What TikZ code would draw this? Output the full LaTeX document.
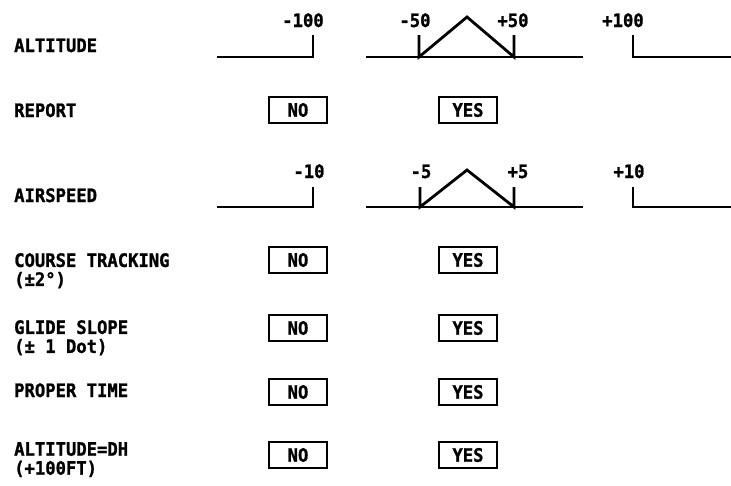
\documentclass[tikz,border=0pt]{standalone}
\usepackage{fontspec}
\usepackage{tikz}
\usetikzlibrary{positioning}
\newfontfamily\tagfont[FakeStretch=0.93, BoldFeatures={FakeBold=1.2}]{DejaVu Sans Mono}

\begin{document}
\begin{tikzpicture}[
    x=1pt, y=-1pt,
    font=\tagfont\bfseries\fontsize{18.5}{19}\selectfont,
    lbl/.style={anchor=base west, inner sep=0pt},
    lbltwo/.style={anchor=north west, inner sep=0pt, align=left},
    num/.style={anchor=base, inner sep=0pt},
    ansbox/.style={draw, line width=2.6pt, minimum width=58pt, minimum height=26pt, inner sep=0pt},
    scaleline/.style={line width=2.8pt, line join=miter}
]
\useasboundingbox (0,0) rectangle (731,485);

% row labels
\node[lbl] (alt) at (14,52) {ALTITUDE};
\node[lbl] (report) at (14,117) {REPORT};
\node[lbl] (speed) at (14,202) {AIRSPEED};
\node[lbltwo] (course) at (14,253) {COURSE TRACKING\\(±2°)};
\node[lbltwo] (glide) at (14,320) {GLIDE SLOPE\\(± 1 Dot)};
\node[lbl] (time) at (14,397) {PROPER TIME};
\node[lbltwo] (dh) at (14,442) {ALTITUDE=DH\\(+100FT)};

% altitude scale
\draw[scaleline] (217,57) -- (313,57) -- (313,35);
\draw[scaleline] (366,57) -- (583,57);
\draw[scaleline] (419,35) -- (419,57) -- (467,17) -- (514,57) -- (514,35);
\draw[scaleline] (633,35) -- (633,57) -- (731,57);
\node[num] (altmm) at (303,27) {-100};
\node[num] (altm) at (415,27) {-50};
\node[num] (altp) at (513,27) {+50};
\node[num] (altpp) at (623,27) {+100};

% airspeed scale
\draw[scaleline] (217,207) -- (313,207) -- (313,187);
\draw[scaleline] (366,207) -- (583,207);
\draw[scaleline] (420,187) -- (420,207) -- (467,170) -- (514,207) -- (514,187);
\draw[scaleline] (633,187) -- (633,207) -- (731,207);
\node[num] (spdmm) at (309,178) {-10};
\node[num] (spdm) at (421,178) {-5};
\node[num] (spdp) at (518,178) {+5};
\node[num] (spdpp) at (629,178) {+10};

% answer boxes
\node[ansbox] (reportno) at (298,110) {NO};
\node[ansbox] (reportyes) at (468,110) {YES};
\node[ansbox] (courseno) at (298,260) {NO};
\node[ansbox] (courseyes) at (468,260) {YES};
\node[ansbox] (glideno) at (298,328) {NO};
\node[ansbox] (glideyes) at (468,328) {YES};
\node[ansbox] (timeno) at (298,392) {NO};
\node[ansbox] (timeyes) at (468,392) {YES};
\node[ansbox] (dhno) at (298,455) {NO};
\node[ansbox] (dhyes) at (468,455) {YES};
\end{tikzpicture}
\end{document}
